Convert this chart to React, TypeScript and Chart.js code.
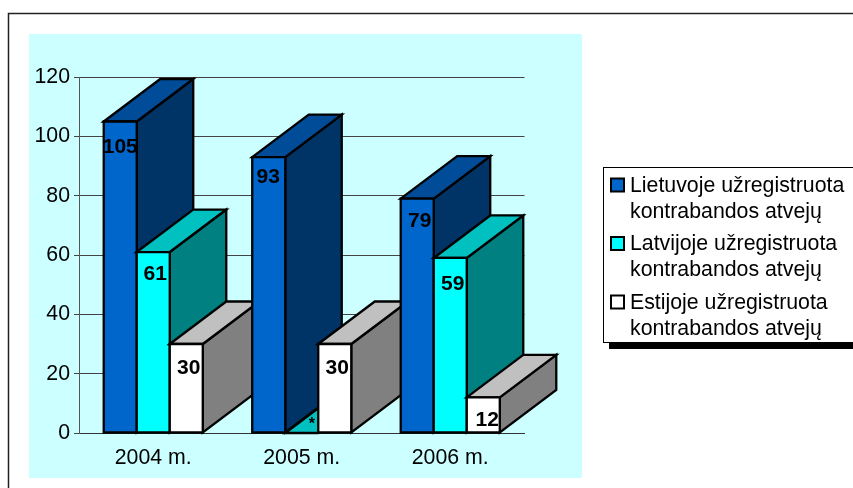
import React, { useEffect, useRef } from "react";
import { Chart, registerables } from "chart.js";

Chart.register(...registerables);

const categories = ["2004 m.", "2005 m.", "2006 m."];
const lietuva = [105, 93, 79];
const latvija = [61, 0, 59];
const estija = [30, 30, 12];
const lietuvaLabels = ["105", "93", "79"];
const latvijaLabels = ["61", "*", "59"];
const estijaLabels = ["30", "30", "12"];
const yTicks = [0, 20, 40, 60, 80, 100, 120];
const legendLietuva = ["Lietuvoje užregistruota", "kontrabandos atvejų"];
const legendLatvija = ["Latvijoje užregistruota", "kontrabandos atvejų"];
const legendEstija = ["Estijoje užregistruota", "kontrabandos atvejų"];

const FONT = '"Liberation Sans", Arial, sans-serif';
const TEXT_SIZE = 21.3;
const DEPTH_X = 56.5;
const DEPTH_Y = 42.5;

const palette = [
  { front: "#0066CC", top: "#004C99", side: "#003366" },
  { front: "#00FFFF", top: "#00C0C0", side: "#008080" },
  { front: "#FFFFFF", top: "#C0C0C0", side: "#808080" },
];
const labelSets = [lietuvaLabels, latvijaLabels, estijaLabels];
// small hand nudges [dx, dy] of each value label relative to its bar
const nudges = [
  [[0, 25.5], [-0.5, 20.5], [2.5, 22.5]],
  [[2, 22.5], [10, -8], [2.5, 26]],
  [[2.5, 24.5], [2.5, 24.5], [4, 22.5]],
];

const poly = (ctx: CanvasRenderingContext2D, pts: number[][], fill: string) => {
  ctx.beginPath();
  pts.forEach(([x, y], i) => (i ? ctx.lineTo(x, y) : ctx.moveTo(x, y)));
  ctx.closePath();
  ctx.fillStyle = fill;
  ctx.fill();
  ctx.stroke();
};

const framePlugin = {
  id: "frame",
  beforeDraw(chart: any) {
    const { ctx, width, height } = chart;
    ctx.save();
    ctx.fillStyle = "#FFFFFF";
    ctx.fillRect(0, 0, width, height);
    ctx.strokeStyle = "#222222";
    ctx.lineWidth = 1.5;
    ctx.beginPath();
    ctx.moveTo(8.5, height + 2);
    ctx.lineTo(8.5, 13.5);
    ctx.lineTo(width + 2, 13.5);
    ctx.stroke();
    ctx.fillStyle = "#CCFFFF";
    ctx.fillRect(29, 34, 553, 444);
    ctx.restore();
  },
};

const bars3dPlugin = {
  id: "bars3d",
  beforeDatasetsDraw(chart: any) {
    const { ctx } = chart;
    ctx.save();
    ctx.strokeStyle = "#000000";
    ctx.lineWidth = 2.3;
    ctx.lineJoin = "miter";
    categories.forEach((_, c) => {
      palette.forEach((col, d) => {
        const el = chart.getDatasetMeta(d).data[c];
        const l = el.x - el.width / 2;
        const r = el.x + el.width / 2;
        const t = el.y;
        const b = el.base;
        poly(ctx, [[r, t], [r + DEPTH_X, t - DEPTH_Y], [r + DEPTH_X, b - DEPTH_Y], [r, b]], col.side);
        poly(ctx, [[l, t], [l + DEPTH_X, t - DEPTH_Y], [r + DEPTH_X, t - DEPTH_Y], [r, t]], col.top);
        if (b - t > 0.5) poly(ctx, [[l, t], [r, t], [r, b], [l, b]], col.front);
      });
    });
    ctx.fillStyle = "#000000";
    ctx.textAlign = "center";
    ctx.textBaseline = "middle";
    categories.forEach((_, c) => {
      palette.forEach((__, d) => {
        const el = chart.getDatasetMeta(d).data[c];
        const [dx, dy] = nudges[d][c];
        ctx.font = labelSets[d][c] === "*" ? `bold 16px ${FONT}` : `bold 21px ${FONT}`;
        ctx.fillText(labelSets[d][c], el.x + dx, el.y + dy);
      });
    });
    ctx.restore();
    return false;
  },
};

const legendPlugin = {
  id: "sideLegend",
  afterDraw(chart: any) {
    const { ctx, width } = chart;
    const groups = [legendLietuva, legendLatvija, legendEstija];
    ctx.save();
    ctx.fillStyle = "#000000";
    ctx.fillRect(609, 343, width - 609, 6);
    ctx.fillStyle = "#FFFFFF";
    ctx.fillRect(604, 167.5, width - 604 + 2, 175);
    ctx.strokeStyle = "#000000";
    ctx.lineWidth = 1;
    ctx.strokeRect(603.5, 167.5, width - 603 + 4, 175);
    ctx.font = `${TEXT_SIZE}px ${FONT}`;
    ctx.textAlign = "left";
    ctx.textBaseline = "middle";
    groups.forEach((lines, i) => {
      const y = 185.5 + i * 58.5;
      ctx.lineWidth = 2;
      ctx.fillStyle = palette[i].front;
      ctx.fillRect(611, y - 7, 13, 13);
      ctx.strokeRect(611, y - 7, 13, 13);
      ctx.fillStyle = "#000000";
      lines.forEach((line, j) => ctx.fillText(line, 630, y + 0.5 + j * 26));
    });
    ctx.restore();
  },
};

export default function App() {
  const ref = useRef<HTMLCanvasElement>(null);
  useEffect(() => {
    const chart = new Chart(ref.current as HTMLCanvasElement, {
      type: "bar",
      data: {
        labels: categories,
        datasets: [
          { label: legendLietuva.join(" "), data: lietuva, backgroundColor: palette[0].front },
          { label: legendLatvija.join(" "), data: latvija, backgroundColor: palette[1].front },
          { label: legendEstija.join(" "), data: estija, backgroundColor: palette[2].front },
        ],
      },
      options: {
        responsive: false,
        animation: false,
        devicePixelRatio: 1,
        layout: { padding: { left: 0, right: 328.5, top: 77, bottom: 0 } },
        datasets: { bar: { categoryPercentage: 0.667, barPercentage: 1 } },
        plugins: { legend: { display: false }, title: { display: false }, tooltip: { enabled: false } },
        scales: {
          x: {
            afterFit: (s: any) => { s.height = 55; },
            grid: { display: false },
            border: { display: true, color: "#333333", width: 1 },
            ticks: { color: "#000000", font: { family: FONT, size: TEXT_SIZE }, padding: 4, maxRotation: 0 },
          },
          y: {
            min: 0,
            max: 120,
            afterFit: (s: any) => { s.width = 79; },
            afterBuildTicks: (s: any) => { s.ticks = yTicks.map((value) => ({ value })); },
            grid: { color: "#444444", lineWidth: 1, drawTicks: true, tickLength: 5 },
            border: { display: true, color: "#555555", width: 1 },
            ticks: { color: "#000000", font: { family: FONT, size: TEXT_SIZE }, padding: 4 },
          },
        },
      },
      plugins: [framePlugin, bars3dPlugin, legendPlugin],
    } as any);
    return () => chart.destroy();
  }, []);
  return (
    <canvas
      ref={ref}
      width={853}
      height={488}
      style={{ position: "fixed", left: 0, top: 0, display: "block" }}
    />
  );
}
